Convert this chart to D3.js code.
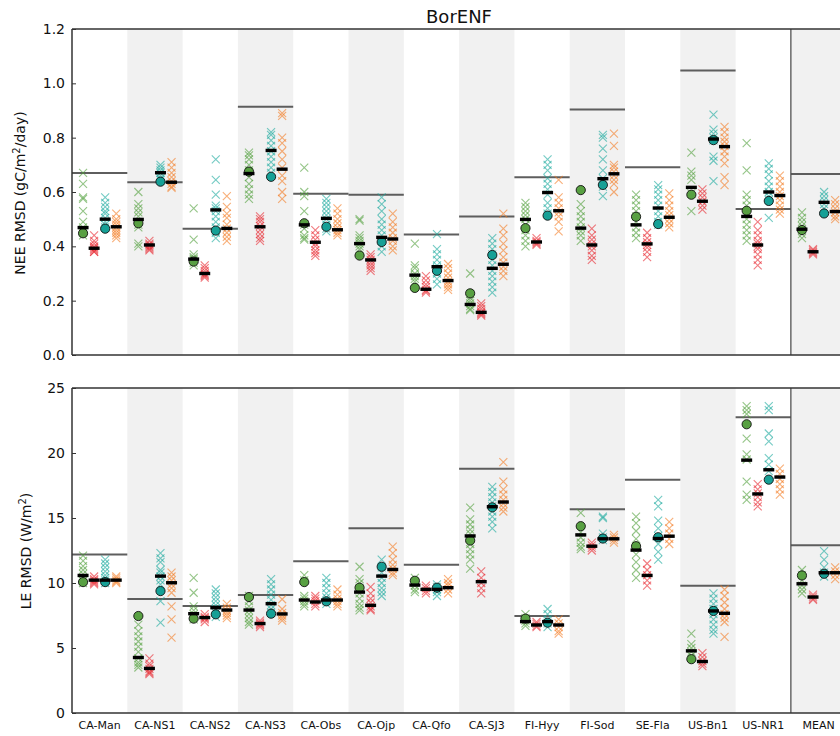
<!DOCTYPE html>
<html><head><meta charset="utf-8">
<script src="https://cdn.jsdelivr.net/npm/d3@7"></script>
<style>body{margin:0;background:#fff} svg{display:block;font-family:"DejaVu Sans",sans-serif}</style>
</head><body><svg id="c" width="840" height="736"></svg>
<script>
const sites = ["CA-Man","CA-NS1","CA-NS2","CA-NS3","CA-Obs","CA-Ojp","CA-Qfo","CA-SJ3","FI-Hyy","FI-Sod","SE-Fla","US-Bn1","US-NR1","MEAN"];
const series = ["G","R","T","O"];
const seriesColors = ["#4e9f38","#e8232b","#17a89c","#f47a1f"];
const neeTicks = [0,0.2,0.4,0.6,0.8,1.0,1.2];
const leTicks = [0,5,10,15,20,25];

// ---------- NEE (top) ----------
const neeBench = [0.67,0.636,0.465,0.914,0.594,0.59,0.444,0.51,0.654,0.904,0.691,1.047,0.537,0.666];
const neeMeanG = [0.469,0.499,0.353,0.668,0.479,0.41,0.294,0.186,0.499,0.467,0.479,0.617,0.51,0.463];
const neeMeanR = [0.393,0.405,0.30,0.472,0.415,0.35,0.242,0.157,0.416,0.405,0.409,0.566,0.405,0.38];
const neeMeanT = [0.50,0.671,0.534,0.753,0.503,0.433,0.325,0.319,0.598,0.649,0.541,0.795,0.60,0.562];
const neeMeanO = [0.472,0.636,0.466,0.684,0.461,0.427,0.274,0.334,0.531,0.667,0.507,0.767,0.587,0.528];
const neeCircG = [0.448,0.485,0.344,0.675,0.485,0.366,0.247,0.227,0.467,0.607,0.509,0.59,0.531,0.46];
const neeCircT = [0.465,0.638,0.458,0.656,0.472,0.416,0.31,0.368,0.513,0.626,0.482,0.791,0.567,0.521];
const neeEnsG = [
 [0.67,0.63,0.58,0.575,0.53,0.49,0.47,0.46,0.45,0.44],
 [0.60,0.555,0.54,0.525,0.51,0.49,0.48,0.47,0.41,0.40],
 [0.54,0.425,0.37,0.36,0.355,0.35,0.34,0.33],
 [0.745,0.735,0.72,0.70,0.68,0.655,0.63,0.61,0.59,0.575],
 [0.69,0.60,0.585,0.53,0.48,0.465,0.44,0.43,0.425],
 [0.50,0.495,0.44,0.43,0.42,0.41,0.40,0.39],
 [0.41,0.33,0.32,0.30,0.29,0.28,0.27],
 [0.30,0.225,0.21,0.20,0.19,0.18,0.17,0.165],
 [0.56,0.545,0.53,0.515,0.50,0.48,0.46,0.44,0.42,0.40],
 [0.555,0.53,0.51,0.49,0.47,0.455,0.44,0.42],
 [0.59,0.57,0.55,0.53,0.51,0.49,0.47,0.45,0.43],
 [0.745,0.675,0.66,0.645,0.595,0.53],
 [0.78,0.68,0.59,0.57,0.55,0.52,0.50,0.48,0.46,0.44,0.42],
 [0.525,0.505,0.49,0.475,0.46,0.445,0.43]];
const neeEnsR = [
 [0.44,0.42,0.41,0.40,0.395,0.39,0.385,0.38,0.38],
 [0.42,0.41,0.405,0.40,0.395,0.39,0.385],
 [0.33,0.32,0.31,0.30,0.295,0.29,0.285],
 [0.51,0.50,0.49,0.475,0.46,0.445,0.43,0.42],
 [0.46,0.44,0.425,0.41,0.40,0.385,0.375,0.365],
 [0.37,0.36,0.35,0.34,0.33,0.32,0.31],
 [0.29,0.275,0.26,0.25,0.24,0.235,0.23],
 [0.19,0.18,0.17,0.16,0.155,0.15,0.145],
 [0.43,0.42,0.415,0.41,0.405],
 [0.465,0.44,0.425,0.41,0.40,0.385,0.365,0.35],
 [0.45,0.43,0.415,0.405,0.395,0.38,0.36],
 [0.61,0.595,0.58,0.565,0.55,0.535],
 [0.49,0.46,0.44,0.42,0.41,0.40,0.39,0.37,0.35,0.33],
 [0.39,0.385,0.38,0.375,0.37]];
const neeEnsT = [
 [0.58,0.56,0.545,0.53,0.52,0.505,0.49,0.48,0.47],
 [0.70,0.69,0.68,0.67,0.66,0.65,0.645],
 [0.72,0.645,0.59,0.55,0.54,0.53,0.51,0.49,0.47,0.45,0.43],
 [0.82,0.81,0.79,0.77,0.75,0.73,0.71,0.69,0.67],
 [0.575,0.56,0.545,0.53,0.515,0.50,0.48,0.465,0.455],
 [0.58,0.555,0.53,0.50,0.48,0.46,0.44,0.42,0.40,0.38],
 [0.445,0.39,0.37,0.35,0.33,0.32,0.30,0.28,0.26],
 [0.43,0.41,0.39,0.37,0.35,0.33,0.31,0.29,0.27,0.25,0.23],
 [0.72,0.70,0.68,0.65,0.63,0.61,0.59,0.56,0.54,0.52],
 [0.81,0.80,0.76,0.72,0.68,0.65,0.64,0.62,0.585],
 [0.625,0.61,0.59,0.57,0.55,0.53,0.51,0.49,0.48],
 [0.885,0.83,0.815,0.80,0.79,0.73,0.715,0.64],
 [0.705,0.685,0.665,0.64,0.62,0.60,0.585,0.57,0.505],
 [0.60,0.585,0.57,0.555,0.54]];
const neeEnsO = [
 [0.52,0.50,0.49,0.48,0.47,0.46,0.45,0.44,0.43],
 [0.71,0.69,0.67,0.655,0.64,0.63,0.62,0.615],
 [0.585,0.545,0.52,0.505,0.48,0.465,0.45,0.435,0.42],
 [0.89,0.88,0.80,0.78,0.75,0.72,0.69,0.66,0.64,0.60,0.575],
 [0.54,0.52,0.50,0.485,0.47,0.46,0.45,0.44],
 [0.52,0.49,0.47,0.45,0.43,0.42,0.40,0.385],
 [0.335,0.32,0.30,0.285,0.27,0.26,0.25,0.24],
 [0.52,0.465,0.44,0.41,0.385,0.36,0.34,0.325,0.31,0.29],
 [0.645,0.58,0.56,0.54,0.525,0.51,0.49,0.455],
 [0.815,0.77,0.70,0.69,0.675,0.66,0.645,0.63,0.60],
 [0.595,0.57,0.55,0.53,0.515,0.50,0.485,0.47],
 [0.84,0.82,0.80,0.785,0.77,0.75,0.73,0.705,0.655,0.625],
 [0.66,0.64,0.62,0.60,0.585,0.57,0.55,0.535,0.52],
 [0.57,0.555,0.54,0.525,0.51,0.50]];

// ---------- LE (bottom) ----------
const leBench = [12.19,8.77,8.23,9.07,11.68,14.21,11.4,18.79,7.46,15.67,17.94,9.79,22.75,12.91];
const leMeanG = [10.58,4.27,7.64,7.92,8.69,9.3,9.84,13.62,7.03,13.7,12.53,4.78,19.45,9.94];
const leMeanR = [10.22,3.43,7.34,6.88,8.54,8.28,9.51,10.1,6.77,12.83,10.58,3.96,16.85,8.92];
const leMeanT = [10.22,10.53,8.1,8.41,8.69,10.53,9.51,15.87,7.03,13.4,13.42,7.85,18.71,10.79];
const leMeanO = [10.22,10.02,7.92,7.62,8.69,11.04,9.64,16.23,6.77,13.4,13.6,7.67,18.15,10.79];
const leCircG = [10.07,7.46,7.26,8.92,10.07,9.64,10.17,13.27,7.26,14.37,12.83,4.14,22.21,10.58];
const leCircT = [10.07,9.38,7.59,7.64,8.59,11.25,9.64,15.82,6.95,13.42,13.52,7.85,17.95,10.71];
const leEnsG = [
 [12.1,11.7,11.3,11.0,10.7,10.4,10.2,10.0],
 [6.8,6.3,5.9,5.5,5.1,4.7,4.2,3.9,3.7,3.5],
 [10.4,9.25,8.2,7.9,7.6,7.4,7.2],
 [9.0,8.6,8.2,7.9,7.6,7.3,7.0,6.8],
 [10.6,10.2,9.0,8.8,8.6,8.4,8.2],
 [11.25,10.3,10.0,9.6,9.2,8.8,8.4,8.1,7.9],
 [10.4,10.1,9.8,9.5,9.3],
 [15.8,14.9,14.5,14.1,13.8,13.4,13.0,12.6,12.2,11.8,11.1],
 [7.6,7.3,7.1,6.9,6.7],
 [15.4,13.9,13.5,13.1,12.8,12.6],
 [15.1,14.6,14.0,13.4,12.8,12.2,11.6,11.0,10.4],
 [6.1,5.3,5.0,4.7,4.4],
 [23.6,23.3,23.0,21.1,19.9,19.5,17.8,16.8,16.4],
 [11.0,10.6,10.2,9.8,9.5,9.2]];
const leEnsR = [
 [10.5,10.3,10.2,10.1,10.0,9.9],
 [4.2,3.8,3.6,3.4,3.2,3.1,3.0],
 [7.6,7.4,7.3,7.2,7.0],
 [7.1,6.95,6.85,6.75,6.6],
 [9.0,8.8,8.6,8.4,8.2],
 [9.7,9.2,8.8,8.5,8.2,8.0,7.9],
 [9.8,9.6,9.4,9.2],
 [10.9,10.4,10.0,9.6,9.2],
 [7.0,6.85,6.7,6.6],
 [13.1,12.9,12.7,12.5],
 [11.5,11.0,10.6,10.2,9.8],
 [4.6,4.3,4.0,3.8,3.6],
 [17.6,17.2,16.9,16.6,16.2,15.9],
 [9.1,8.95,8.8,8.7]];
const leEnsT = [
 [11.8,11.5,11.2,10.9,10.6,10.4,10.2,10.0],
 [12.3,11.9,11.6,11.0,10.8,10.5,10.2,9.9,8.6,6.95],
 [9.5,9.2,8.9,8.6,8.3,8.0,7.7,7.4],
 [10.3,9.9,9.5,9.1,8.7,8.3,8.0,7.7],
 [10.4,10.0,9.6,9.2,8.9,8.6,8.4],
 [11.8,11.2,10.8,10.4,10.0,9.6,9.3,9.0],
 [9.9,9.7,9.5,9.3,9.0],
 [17.4,17.0,16.6,16.2,15.9,15.5,15.1,14.7,14.2],
 [8.0,7.6,7.2,6.9,6.6],
 [15.1,15.0,13.8,13.5,13.3],
 [16.4,15.9,14.8,14.2,13.6,13.0,12.4,11.8],
 [9.2,8.8,8.4,8.0,7.6,7.2,6.8,6.4,6.1],
 [23.6,23.3,21.5,20.9,19.6,19.1,18.6],
 [12.45,11.8,11.2,10.8,10.5]];
const leEnsO = [
 [10.5,10.35,10.2,10.1,10.0],
 [10.8,10.5,10.2,9.9,9.6,9.25,8.2,7.2,5.8],
 [8.4,8.1,7.9,7.7,7.5,7.3],
 [8.75,8.0,7.7,7.5,7.3,7.1],
 [9.5,9.1,8.8,8.6,8.4,8.2],
 [12.8,12.3,11.8,11.4,11.1,10.8,10.6],
 [10.3,10.0,9.8,9.5,9.2],
 [19.3,17.8,17.2,16.8,16.4,16.1,15.8,15.5],
 [7.2,6.9,6.6,6.3,6.1],
 [13.7,13.5,13.3,13.1],
 [14.7,14.2,13.8,13.4,13.0],
 [9.5,9.0,8.5,8.0,7.6,7.3,7.0,5.85],
 [18.8,18.4,18.0,17.6,17.2,16.8],
 [11.2,10.9,10.6,10.3]];

const svg = d3.select("#c");
const x = d3.scaleBand().domain(sites).range([72, 846.2]).padding(0);
const xs = d3.scalePoint().domain(series).range([0.2*x.bandwidth(), 0.8*x.bandwidth()]);
const color = d3.scaleOrdinal().domain(series).range(seriesColors);

function panel(top, bottom, domain, ticks, fmt, bench, means, circG, circT, ens) {
  const y = d3.scaleLinear().domain(domain).range([bottom, top]);
  const g = svg.append("g");
  g.selectAll("rect.band").data(sites.filter((d,i)=>i%2===1)).enter().append("rect")
    .attr("x", d=>x(d)).attr("y", top).attr("width", x.bandwidth()).attr("height", bottom-top)
    .attr("fill", "#f1f1f1");
  g.append("line").attr("x1", x("MEAN")).attr("x2", x("MEAN")).attr("y1", top).attr("y2", bottom)
    .attr("stroke", "#222").attr("stroke-width", 1);
  g.selectAll("line.bench").data(sites).enter().append("line")
    .attr("x1", d=>x(d)).attr("x2", d=>x(d)+x.bandwidth())
    .attr("y1", (d,i)=>y(bench[i])).attr("y2", (d,i)=>y(bench[i]))
    .attr("stroke", "#4d4d4d").attr("stroke-width", 2).attr("stroke-opacity", 0.9);
  const pts = [];
  series.forEach((s, si) => ens[si].forEach((arr, i) => arr.forEach(v => pts.push({s, site: sites[i], v}))));
  g.selectAll("path.cross").data(pts).enter().append("path")
    .attr("d", "M-4,-4L4,4M-4,4L4,-4")
    .attr("transform", d=>`translate(${x(d.site)+xs(d.s)},${y(d.v)})`)
    .attr("fill", "none").attr("stroke", d=>color(d.s)).attr("stroke-opacity", 0.6).attr("stroke-width", 1.1);
  const circ = [];
  sites.forEach((site, i) => { circ.push({s:"G", site, v:circG[i]}); circ.push({s:"T", site, v:circT[i]}); });
  g.selectAll("circle.c").data(circ).enter().append("circle")
    .attr("cx", d=>x(d.site)+xs(d.s)).attr("cy", d=>y(d.v)).attr("r", 4.6)
    .attr("fill", d=> d.s==="G" ? "#58a042" : "#16a096").attr("stroke", "#111").attr("stroke-width", 0.9);
  const bars = [];
  series.forEach((s, si) => means[si].forEach((v, i) => bars.push({s, site: sites[i], v})));
  g.selectAll("rect.mean").data(bars).enter().append("rect")
    .attr("x", d=>x(d.site)+xs(d.s)-5.5).attr("y", d=>y(d.v)-1.7).attr("width", 11).attr("height", 3.4)
    .attr("fill", "#000");
  const ax = g.append("g").attr("transform", `translate(72,0)`)
    .call(d3.axisLeft(y).tickValues(ticks).tickFormat(fmt).tickSizeInner(-4).tickSizeOuter(0).tickPadding(7));
  ax.select(".domain").remove();
  ax.selectAll(".tick line").attr("stroke", "#333");
  ax.selectAll("text").attr("font-size", 14).attr("fill", "#111").attr("font-family", "DejaVu Sans");
  g.append("line").attr("x1", 72).attr("x2", 846).attr("y1", top).attr("y2", top).attr("stroke", "#333").attr("stroke-width", 1.5);
  g.append("line").attr("x1", 72).attr("x2", 846).attr("y1", bottom).attr("y2", bottom).attr("stroke", "#333").attr("stroke-width", 1.5);
  g.append("line").attr("x1", 72).attr("x2", 72).attr("y1", top).attr("y2", bottom).attr("stroke", "#333").attr("stroke-width", 1.5);
  return y;
}

panel(29, 355, [0, 1.2], neeTicks, d3.format(".1f"), neeBench,
  [neeMeanG, neeMeanR, neeMeanT, neeMeanO], neeCircG, neeCircT, [neeEnsG, neeEnsR, neeEnsT, neeEnsO]);
panel(388, 713, [0, 25], leTicks, d3.format("d"), leBench,
  [leMeanG, leMeanR, leMeanT, leMeanO], leCircG, leCircT, [leEnsG, leEnsR, leEnsT, leEnsO]);

svg.append("g").selectAll("text").data(sites).enter().append("text")
  .attr("x", d=>x(d)+x.bandwidth()/2).attr("y", 729).attr("text-anchor", "middle")
  .attr("font-size", 11).attr("fill", "#111").text(d=>d);

svg.append("text").attr("x", 459).attr("y", 23).attr("text-anchor", "middle")
  .attr("font-size", 18).attr("fill", "#111").text("BorENF");

const yl1 = svg.append("text").attr("transform", "translate(25,193) rotate(-90)")
  .attr("text-anchor", "middle").attr("font-size", 14).attr("fill", "#111");
yl1.append("tspan").text("NEE RMSD (gC/m");
yl1.append("tspan").attr("dy", -5).attr("font-size", 10).text("2");
yl1.append("tspan").attr("dy", 5).text("/day)");
const yl2 = svg.append("text").attr("transform", "translate(31,551) rotate(-90)")
  .attr("text-anchor", "middle").attr("font-size", 14).attr("fill", "#111");
yl2.append("tspan").text("LE RMSD (W/m");
yl2.append("tspan").attr("dy", -5).attr("font-size", 10).text("2");
yl2.append("tspan").attr("dy", 5).text(")");
</script></body></html>
